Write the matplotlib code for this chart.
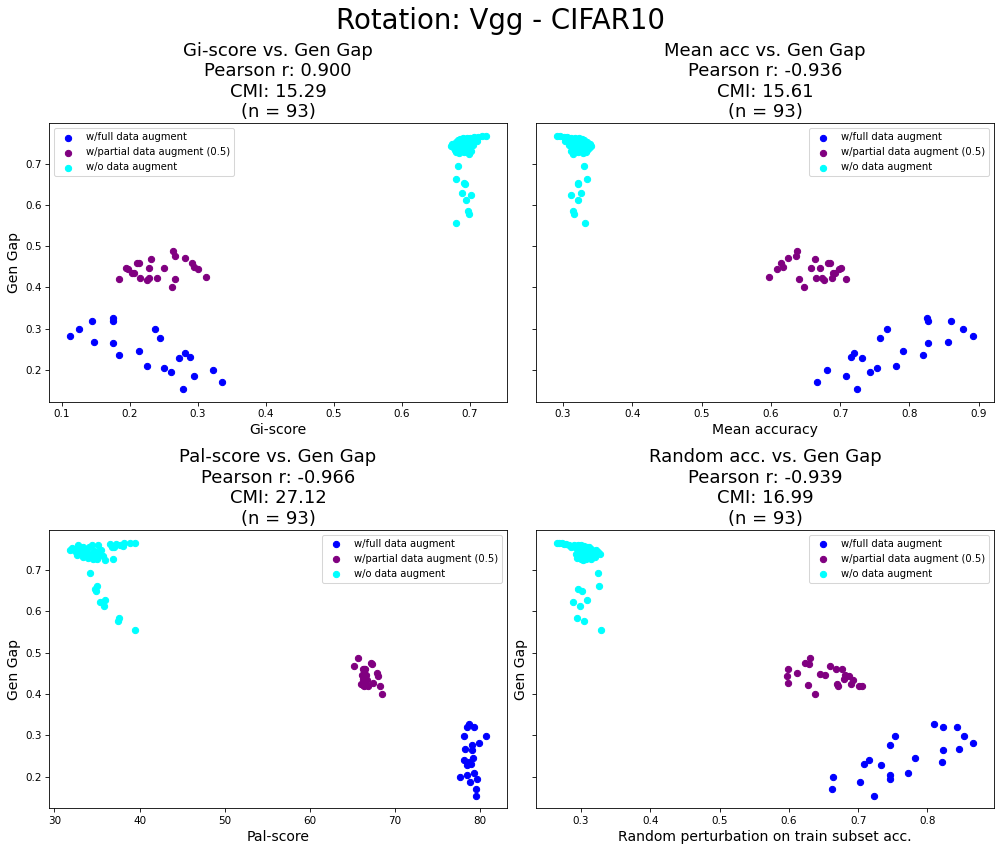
import numpy as np
import matplotlib
matplotlib.use("Agg")
import matplotlib.pyplot as plt

# w/full data augment
gap_full = [0.282, 0.299, 0.320, 0.267, 0.327, 0.320, 0.265, 0.236, 0.246, 0.210, 0.299,
            0.277, 0.205, 0.195, 0.229, 0.154, 0.241, 0.231, 0.186, 0.200, 0.171]
gi_full = [0.112, 0.125, 0.144, 0.148, 0.176, 0.176, 0.176, 0.184, 0.213, 0.225, 0.237,
           0.245, 0.250, 0.260, 0.272, 0.279, 0.282, 0.288, 0.294, 0.322, 0.335]
macc_full = [0.892, 0.878, 0.860, 0.855, 0.826, 0.827, 0.827, 0.820, 0.791, 0.780, 0.767,
             0.758, 0.753, 0.743, 0.731, 0.724, 0.720, 0.715, 0.708, 0.681, 0.667]
pal_full = [79.8, 80.7, 79.3, 78.2, 78.7, 78.4, 79.0, 78.7, 79.1, 79.3, 78.1,
            79.0, 78.4, 79.6, 78.4, 79.5, 78.1, 78.9, 78.8, 77.6, 79.5]
rand_full = [0.866, 0.853, 0.843, 0.846, 0.810, 0.822, 0.822, 0.821, 0.782, 0.772, 0.753,
             0.746, 0.746, 0.746, 0.733, 0.723, 0.715, 0.709, 0.702, 0.663, 0.662]

# w/partial data augment (0.5)
gap_part = [0.420, 0.446, 0.444, 0.434, 0.436, 0.460, 0.460, 0.424, 0.419, 0.448, 0.424, 0.469,
            0.422, 0.446, 0.400, 0.488, 0.420, 0.476, 0.472, 0.460, 0.450, 0.444, 0.426]
gi_part = [0.185, 0.194, 0.197, 0.203, 0.207, 0.210, 0.213, 0.215, 0.225, 0.229, 0.229, 0.232,
           0.240, 0.250, 0.262, 0.263, 0.266, 0.267, 0.282, 0.291, 0.294, 0.301, 0.312]
macc_part = [0.708, 0.701, 0.698, 0.692, 0.689, 0.685, 0.682, 0.688, 0.677, 0.671, 0.674, 0.663,
             0.665, 0.658, 0.648, 0.638, 0.640, 0.636, 0.625, 0.615, 0.617, 0.609, 0.598]
pal_part = [68.2, 66.1, 68.0, 66.7, 66.2, 66.3, 66.5, 66.0, 66.4, 66.4, 66.5, 65.2,
            66.2, 66.6, 68.5, 65.6, 66.8, 67.15, 67.3, 66.2, 67.9, 66.3, 67.4]
rand_part = [0.705, 0.652, 0.687, 0.693, 0.680, 0.668, 0.677, 0.670, 0.701, 0.645, 0.690, 0.660,
             0.627, 0.681, 0.638, 0.631, 0.671, 0.624, 0.629, 0.599, 0.612, 0.597, 0.599]

# w/o data augment
gap_none = [0.767, 0.766, 0.765, 0.764, 0.763, 0.762, 0.761, 0.760, 0.760, 0.758, 0.757, 0.756,
            0.755, 0.754, 0.753, 0.752, 0.750, 0.749, 0.748, 0.747, 0.746, 0.745, 0.744, 0.742,
            0.741, 0.740, 0.739, 0.738, 0.736, 0.735, 0.734, 0.733, 0.731, 0.730, 0.728, 0.727,
            0.726, 0.724, 0.757, 0.693, 0.662, 0.654, 0.650, 0.628, 0.623, 0.613, 0.585, 0.577,
            0.556]
gi_none = [0.724, 0.718, 0.712, 0.706, 0.700, 0.695, 0.690, 0.686, 0.703, 0.698, 0.692, 0.683,
           0.688, 0.710, 0.679, 0.694, 0.700, 0.685, 0.674, 0.690, 0.705, 0.681, 0.696, 0.672,
           0.688, 0.700, 0.684, 0.676, 0.693, 0.682, 0.697, 0.678, 0.688, 0.702, 0.680, 0.692,
           0.684, 0.699, 0.707, 0.683, 0.680, 0.692, 0.693, 0.688, 0.702, 0.694, 0.697, 0.698,
           0.679]
macc_none = [0.291, 0.296, 0.301, 0.306, 0.312, 0.318, 0.323, 0.327, 0.310, 0.314, 0.320, 0.330,
             0.325, 0.303, 0.334, 0.319, 0.313, 0.328, 0.339, 0.323, 0.308, 0.332, 0.317, 0.341,
             0.325, 0.313, 0.329, 0.337, 0.320, 0.331, 0.316, 0.335, 0.325, 0.311, 0.333, 0.321,
             0.329, 0.314, 0.307, 0.331, 0.335, 0.321, 0.322, 0.326, 0.312, 0.321, 0.315, 0.316,
             0.332]
pal_none = [39.5, 38.9, 38.2, 37.2, 36.5, 32.8, 34.4, 35.1, 37.7, 38.0, 33.4, 34.0,
            36.8, 32.1, 32.6, 33.0, 35.5, 33.7, 31.8, 34.6, 32.4, 33.2, 34.9, 32.9,
            33.5, 35.2, 34.3, 33.8, 32.7, 34.1, 35.7, 33.3, 34.7, 33.9, 35.0, 34.5,
            36.9, 35.9, 37.0, 34.2, 35.0, 34.75, 34.9, 35.96, 35.3, 35.8, 37.6, 37.4,
            39.5]
rand_none = [0.265, 0.268, 0.272, 0.276, 0.279, 0.283, 0.290, 0.295, 0.300, 0.305, 0.309, 0.312,
             0.297, 0.303, 0.293, 0.315, 0.301, 0.306, 0.322, 0.299, 0.310, 0.325, 0.296, 0.318,
             0.304, 0.293, 0.328, 0.300, 0.311, 0.297, 0.302, 0.320, 0.306, 0.294, 0.300, 0.315,
             0.307, 0.303, 0.285, 0.324, 0.326, 0.295, 0.301, 0.308, 0.288, 0.298, 0.294, 0.304,
             0.329]

labels = ["w/full data augment", "w/partial data augment (0.5)", "w/o data augment"]
colors = ["blue", "purple", "cyan"]

panels = [
    ("Gi-score vs. Gen Gap\nPearson r: 0.900\nCMI: 15.29\n(n = 93)", "Gi-score",
     [gi_full, gi_part, gi_none], "upper left", True),
    ("Mean acc vs. Gen Gap\nPearson r: -0.936\nCMI: 15.61\n(n = 93)", "Mean accuracy",
     [macc_full, macc_part, macc_none], "upper right", False),
    ("Pal-score vs. Gen Gap\nPearson r: -0.966\nCMI: 27.12\n(n = 93)", "Pal-score",
     [pal_full, pal_part, pal_none], "upper right", True),
    ("Random acc. vs. Gen Gap\nPearson r: -0.939\nCMI: 16.99\n(n = 93)",
     "Random perturbation on train subset acc.",
     [rand_full, rand_part, rand_none], "upper right", True),
]
gaps = [gap_full, gap_part, gap_none]

fig, axes = plt.subplots(2, 2, figsize=(40 / 3, 34 / 3), dpi=75, sharey="row")
for ax, (title, xlabel, xs, loc, ylab) in zip(axes.flat, panels):
    for x, y, c, lab in zip(xs, gaps, colors, labels):
        ax.scatter(x, y, c=c, label=lab)
    ax.set_title(title, fontsize=17.3, linespacing=1.17)
    ax.set_xlabel(xlabel, fontsize=13.4)
    if ylab:
        ax.set_ylabel("Gen Gap", fontsize=13.4)
    ax.legend(loc=loc, fontsize=9.6)

fig.suptitle("Rotation: Vgg - CIFAR10", fontsize=26.5, y=0.992)
fig.subplots_adjust(left=0.049, right=0.994, top=0.855, bottom=0.049, wspace=0.063, hspace=0.46)
fig.savefig("out.png", dpi=75)
